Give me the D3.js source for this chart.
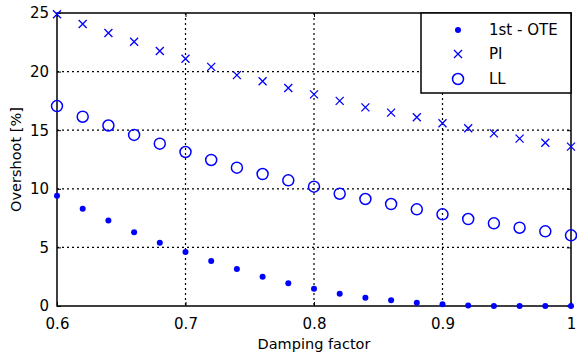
<!DOCTYPE html>
<html>
<head>
<meta charset="utf-8">
<script src="https://cdn.jsdelivr.net/npm/d3@7"></script>
<style>
  body { margin: 0; background: #fff; }
  text { font-family: "DejaVu Sans", sans-serif; fill: #000; }
</style>
</head>
<body>
<div id="chart"></div>
<script>
// damping factor values (x)
var damping = [0.60, 0.62, 0.64, 0.66, 0.68, 0.70, 0.72, 0.74, 0.76, 0.78, 0.80,
  0.82, 0.84, 0.86, 0.88, 0.90, 0.92, 0.94, 0.96, 0.98, 1.00];

// overshoot [%] for each method
var oteValues = [9.4, 8.3, 7.3, 6.3, 5.4, 4.6, 3.84, 3.16, 2.5, 1.94, 1.48,
  1.05, 0.71, 0.49, 0.28, 0.15, 0.04, 0.01, 0, 0, 0];
var piValues = [24.9, 24.06, 23.3, 22.55, 21.76, 21.1, 20.4, 19.7, 19.17, 18.6, 18.06,
  17.5, 16.95, 16.5, 16.1, 15.6, 15.16, 14.73, 14.28, 13.93, 13.6];
var llValues = [17.06, 16.15, 15.4, 14.6, 13.85, 13.14, 12.46, 11.8, 11.26, 10.72, 10.18,
  9.58, 9.13, 8.7, 8.25, 7.82, 7.42, 7.05, 6.68, 6.37, 6.03];

var xTicks = [0.6, 0.7, 0.8, 0.9, 1.0];
var yTicks = [0, 5, 10, 15, 20, 25];
var legendLabels = ["1st - OTE", "PI", "LL"];

var svgWidth = 577;
var svgHeight = 358;
var margin = { top: 13, right: 6, bottom: 52, left: 57 };
var width = svgWidth - margin.left - margin.right;
var height = svgHeight - margin.top - margin.bottom;
var blue = "#0000ff";

var svg = d3.select("#chart")
  .append("svg")
  .attr("width", svgWidth)
  .attr("height", svgHeight);

var chartGroup = svg.append("g")
  .attr("transform", `translate(${margin.left}, ${margin.top})`);

var xScale = d3.scaleLinear().domain([0.6, 1.0]).range([0, width]);
var yScale = d3.scaleLinear().domain([0, 25]).range([height, 0]);

// dotted grid
chartGroup.append("g")
  .selectAll("line")
  .data(xTicks.slice(1, -1))
  .enter()
  .append("line")
  .attr("x1", d => xScale(d)).attr("x2", d => xScale(d))
  .attr("y1", 0).attr("y2", height)
  .attr("stroke", "#000").attr("stroke-width", 1.2)
  .attr("stroke-dasharray", "2,3");

chartGroup.append("g")
  .selectAll("line")
  .data(yTicks.slice(1, -1))
  .enter()
  .append("line")
  .attr("x1", 0).attr("x2", width)
  .attr("y1", d => yScale(d)).attr("y2", d => yScale(d))
  .attr("stroke", "#000").attr("stroke-width", 1.2)
  .attr("stroke-dasharray", "2,3");

// axes with inward ticks
var bottomAxis = d3.axisBottom(xScale).tickValues(xTicks)
  .tickFormat(d => d === 1 ? "1" : d3.format(".1f")(d))
  .tickSizeInner(-4).tickSizeOuter(0).tickPadding(12);
var leftAxis = d3.axisLeft(yScale).tickValues(yTicks)
  .tickSizeInner(-4).tickSizeOuter(0).tickPadding(8);
var topAxis = d3.axisTop(xScale).tickValues(xTicks).tickFormat("")
  .tickSizeInner(-4).tickSizeOuter(0);
var rightAxis = d3.axisRight(yScale).tickValues(yTicks).tickFormat("")
  .tickSizeInner(-4).tickSizeOuter(0);

var xAxis = chartGroup.append("g")
  .attr("transform", `translate(0, ${height})`)
  .call(bottomAxis);
var yAxis = chartGroup.append("g").call(leftAxis);
chartGroup.append("g").call(topAxis);
chartGroup.append("g").attr("transform", `translate(${width}, 0)`).call(rightAxis);

chartGroup.selectAll(".domain").attr("stroke", "none");
chartGroup.selectAll(".tick line").attr("stroke", "#000").attr("stroke-width", 1);
chartGroup.selectAll(".tick text")
  .attr("font-family", "DejaVu Sans").attr("font-size", 15).attr("fill", "#000");

// frame
chartGroup.append("rect")
  .attr("x", 0).attr("y", 0)
  .attr("width", width).attr("height", height)
  .attr("fill", "none").attr("stroke", "#000").attr("stroke-width", 1.5);

// series
var points = damping.map((d, i) => ({ x: d, ote: oteValues[i], pi: piValues[i], ll: llValues[i] }));

chartGroup.append("g")
  .selectAll("circle")
  .data(points)
  .enter()
  .append("circle")
  .attr("cx", d => xScale(d.x))
  .attr("cy", d => yScale(d.ote))
  .attr("r", 3)
  .attr("fill", blue);

function crossPath(cx, cy, s) {
  return `M${cx - s},${cy - s}L${cx + s},${cy + s}M${cx - s},${cy + s}L${cx + s},${cy - s}`;
}

chartGroup.append("g")
  .selectAll("path")
  .data(points)
  .enter()
  .append("path")
  .attr("d", d => crossPath(xScale(d.x), yScale(d.pi), 4))
  .attr("stroke", blue).attr("stroke-width", 1.3).attr("fill", "none");

chartGroup.append("g")
  .selectAll("circle")
  .data(points)
  .enter()
  .append("circle")
  .attr("cx", d => xScale(d.x))
  .attr("cy", d => yScale(d.ll))
  .attr("r", 5.5)
  .attr("fill", "none")
  .attr("stroke", blue).attr("stroke-width", 1.5);

// axis labels
chartGroup.append("text")
  .attr("x", width / 2)
  .attr("y", height + 43)
  .attr("text-anchor", "middle")
  .attr("font-size", 14.5)
  .text("Damping factor");

chartGroup.append("text")
  .attr("transform", "rotate(-90)")
  .attr("x", -height / 2)
  .attr("y", -36)
  .attr("text-anchor", "middle")
  .attr("font-size", 14.5)
  .text("Overshoot [%]");

// legend
var legend = svg.append("g").attr("transform", "translate(421, 13)");
legend.append("rect")
  .attr("x", 0).attr("y", 0)
  .attr("width", 150).attr("height", 80)
  .attr("fill", "#fff").attr("stroke", "#000").attr("stroke-width", 1.5);

var rowY = [17, 41, 66];
legend.append("circle").attr("cx", 37).attr("cy", rowY[0]).attr("r", 3).attr("fill", blue);
legend.append("path").attr("d", crossPath(37, rowY[1], 4))
  .attr("stroke", blue).attr("stroke-width", 1.3);
legend.append("circle").attr("cx", 37).attr("cy", rowY[2]).attr("r", 5.5)
  .attr("fill", "none").attr("stroke", blue).attr("stroke-width", 1.5);

legend.selectAll("text.lbl")
  .data(legendLabels)
  .enter()
  .append("text")
  .attr("class", "lbl")
  .attr("x", 68)
  .attr("y", (d, i) => rowY[i])
  .attr("dy", "0.36em")
  .attr("font-size", 15)
  .text(d => d);
</script>
</body>
</html>
